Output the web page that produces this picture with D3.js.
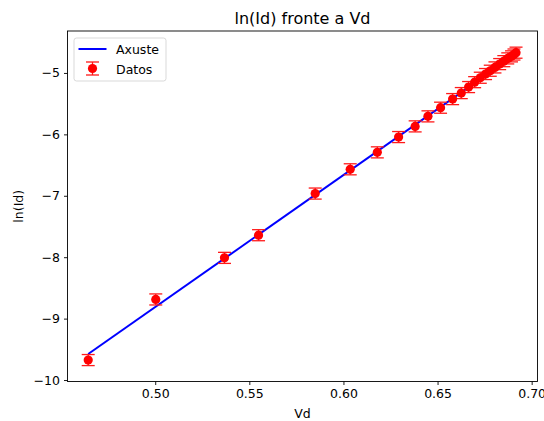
<!DOCTYPE html>
<html>
<head>
<meta charset="utf-8">
<script src="https://cdn.jsdelivr.net/npm/d3@7"></script>
<style>
  body { margin: 0; background: #fff; }
  svg { font-family: "DejaVu Sans", sans-serif; }
</style>
</head>
<body>
<div class="viewbox"></div>
<script>
// data
const vd = [0.4644, 0.5003, 0.5368, 0.5549, 0.5850, 0.6036, 0.6180, 0.6293, 0.6381,
  0.6449, 0.6516, 0.6580, 0.6626, 0.6665, 0.6697, 0.6727, 0.6755, 0.6780, 0.6805,
  0.6830, 0.6852, 0.6873, 0.6893, 0.6906, 0.6917];
const lnId = [-9.675, -8.688, -8.011, -7.642, -6.964, -6.569, -6.293, -6.044, -5.870,
  -5.707, -5.566, -5.426, -5.328, -5.230, -5.150, -5.078, -5.018, -4.964, -4.910,
  -4.856, -4.808, -4.763, -4.730, -4.700, -4.670];
const yErr = vd.map(() => 0.09);

// fitted line endpoints (Axuste)
const fitX = [0.4644, 0.6917];
const fitY = [-9.577, -4.692];

const xTicks = [0.50, 0.55, 0.60, 0.65, 0.70];
const yTicks = [-10, -9, -8, -7, -6, -5];

const svg_width = 544;
const svg_height = 421;
const pLeft = 67.5, pRight = 537.5, pTop = 31, pBottom = 381.5;

let svg = d3.select(".viewbox")
  .append("svg")
  .attr("width", svg_width)
  .attr("height", svg_height);

let x = d3.scaleLinear().domain([0.4534, 0.7031]).range([pLeft, pRight]);
let y = d3.scaleLinear().domain([-10.024, -4.317]).range([pBottom, pTop]);

// axes
svg.append("g")
  .attr("transform", `translate(0,${pBottom})`)
  .call(d3.axisBottom(x).tickValues(xTicks).tickFormat(d3.format(".2f")).tickSize(3.5).tickPadding(4))
  .call(g => g.select(".domain").remove());
svg.append("g")
  .attr("transform", `translate(${pLeft},0)`)
  .call(d3.axisLeft(y).tickValues(yTicks).tickFormat(d3.format("d")).tickSize(3.5).tickPadding(4))
  .call(g => g.select(".domain").remove());

svg.selectAll(".tick text").attr("font-size", 12.5).attr("fill", "#000").attr("font-family", "DejaVu Sans");
svg.selectAll(".tick line").attr("stroke", "#000").attr("stroke-width", 0.9);

// fit line
let line = d3.line().x(d => x(d[0])).y(d => y(d[1]));
svg.append("path")
  .datum(d3.zip(fitX, fitY))
  .attr("d", line)
  .attr("fill", "none")
  .attr("stroke", "#0000ff")
  .attr("stroke-width", 2);

// error bars + points
const pts = vd.map((v, i) => ({ x: v, y: lnId[i], e: yErr[i] }));
const cap = 6.5;
let eb = svg.append("g").attr("stroke", "#ff1a1a").attr("stroke-width", 1.3);
pts.forEach(d => {
  let cx = x(d.x), y0 = y(d.y - d.e), y1 = y(d.y + d.e);
  eb.append("line").attr("x1", cx).attr("x2", cx).attr("y1", y0).attr("y2", y1);
  eb.append("line").attr("x1", cx - cap).attr("x2", cx + cap).attr("y1", y0).attr("y2", y0);
  eb.append("line").attr("x1", cx - cap).attr("x2", cx + cap).attr("y1", y1).attr("y2", y1);
});
svg.append("g").selectAll("circle")
  .data(pts)
  .enter()
  .append("circle")
  .attr("cx", d => x(d.x))
  .attr("cy", d => y(d.y))
  .attr("r", 4.6)
  .attr("fill", "#ff0000");

// frame
svg.append("rect")
  .attr("x", pLeft).attr("y", pTop)
  .attr("width", pRight - pLeft).attr("height", pBottom - pTop)
  .attr("fill", "none").attr("stroke", "#000").attr("stroke-width", 0.9);

// title and labels
svg.append("text").attr("x", (pLeft + pRight) / 2).attr("y", 23.5)
  .attr("text-anchor", "middle").attr("font-size", 16).text("ln(Id) fronte a Vd");
svg.append("text").attr("x", (pLeft + pRight) / 2).attr("y", 418)
  .attr("text-anchor", "middle").attr("font-size", 12.5).text("Vd");
svg.append("text").attr("transform", `translate(23,${(pTop + pBottom) / 2}) rotate(-90)`)
  .attr("text-anchor", "middle").attr("font-size", 12.5).text("ln(Id)");

// legend
let lg = svg.append("g");
lg.append("rect").attr("x", 74).attr("y", 38).attr("width", 92).attr("height", 43)
  .attr("rx", 2.5).attr("fill", "#fff").attr("fill-opacity", 0.8)
  .attr("stroke", "#d5d5d5").attr("stroke-width", 0.9);
lg.append("line").attr("x1", 78.5).attr("x2", 106.5).attr("y1", 49).attr("y2", 49)
  .attr("stroke", "#0000ff").attr("stroke-width", 2);
lg.append("text").attr("x", 116).attr("y", 53.5).attr("font-size", 12.5).text("Axuste");
let li = lg.append("g").attr("stroke", "#ff1a1a").attr("stroke-width", 1.3);
li.append("line").attr("x1", 92.5).attr("x2", 92.5).attr("y1", 62).attr("y2", 75);
li.append("line").attr("x1", 86).attr("x2", 99).attr("y1", 62).attr("y2", 62);
li.append("line").attr("x1", 86).attr("x2", 99).attr("y1", 75).attr("y2", 75);
lg.append("circle").attr("cx", 92.5).attr("cy", 68.5).attr("r", 4.6).attr("fill", "#ff0000");
lg.append("text").attr("x", 116).attr("y", 73.5).attr("font-size", 12.5).text("Datos");
</script>
</body>
</html>
